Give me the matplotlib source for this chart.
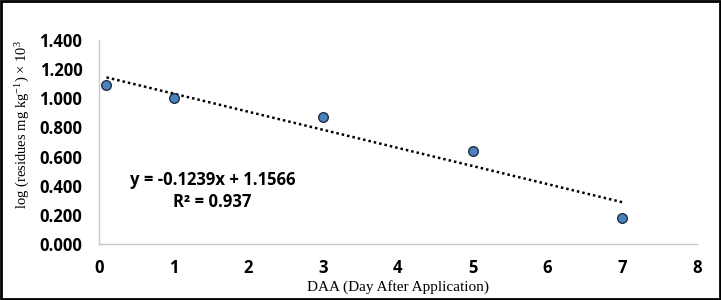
import numpy as np
import matplotlib
matplotlib.use("Agg")
import matplotlib.pyplot as plt
from matplotlib.patches import Rectangle

# days after application and log residues
days = [0.1, 1, 3, 5, 7]
log_res = [1.09, 1.00, 0.87, 0.64, 0.18]
xticks = [0, 1, 2, 3, 4, 5, 6, 7, 8]
yticks = [0.0, 0.2, 0.4, 0.6, 0.8, 1.0, 1.2, 1.4]

plt.rcParams["mathtext.fontset"] = "custom"
plt.rcParams["mathtext.rm"] = "Liberation Serif"
plt.rcParams["mathtext.it"] = "Liberation Serif:italic"

fig = plt.figure(figsize=(7.21, 3.0), dpi=100)
ax = fig.add_axes([0.1373, 0.1867, 0.8294, 0.68])

# linear trendline
slope, icpt = np.polyfit(days, log_res, 1)
xs = np.array([days[0], days[-1]])
ax.plot(xs, slope * xs + icpt, color="black", linestyle=(0, (1, 1.2)), linewidth=1.8, zorder=2)

ax.scatter(days, log_res, s=48, color="#4F81BD", edgecolor="#1f2f4a", linewidth=1.0, zorder=3)

ax.set_xlim(0, 8)
ax.set_ylim(0, 1.4)
ax.set_xticks(xticks)
ax.set_yticks(yticks)
ax.set_xticklabels([str(t) for t in xticks])
ax.set_yticklabels(["%.3f" % t for t in yticks])
ax.tick_params(length=0, labelsize=12)
ax.tick_params(axis="y", pad=12)
ax.tick_params(axis="x", pad=11)
for lab in ax.get_xticklabels() + ax.get_yticklabels():
    lab.set_fontweight("bold")
    lab.set_family("Open Sans")

for s in ["top", "right"]:
    ax.spines[s].set_visible(False)
for s in ["left", "bottom"]:
    ax.spines[s].set_color("#c8c8c8")
    ax.spines[s].set_linewidth(1.0)

ax.set_xlabel("DAA (Day After Application)", family="Liberation Serif", fontsize=11)
ax.xaxis.set_label_coords(0.5, -0.175)
ax.set_ylabel("log (residues mg kg$^{\\mathrm{-1}}$) × 10$^{\\mathrm{3}}$", family="Liberation Serif", fontsize=10.5)
ax.yaxis.set_label_coords(-0.112, 0.585)

ax.text(1.52, 0.44, "y = %.4fx + %.4f" % (-0.1239, 1.1566), ha="center", va="center",
        fontsize=12, fontweight="bold", family="Open Sans")
ax.text(1.52, 0.29, "R² = 0.937", ha="center", va="center",
        fontsize=12, fontweight="bold", family="Open Sans")

fig.patches.append(Rectangle((0.002, 0.003), 0.996, 0.994, transform=fig.transFigure,
                             fill=False, edgecolor="black", linewidth=2))

fig.savefig("out.png", dpi=100)
